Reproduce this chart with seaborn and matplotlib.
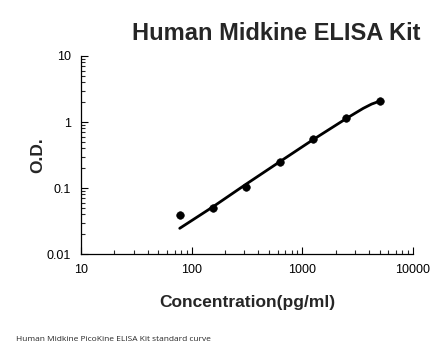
import numpy as np
import pandas as pd
import matplotlib
matplotlib.use('Agg')
import matplotlib.pyplot as plt
from matplotlib.ticker import LogLocator, FixedLocator, FixedFormatter, NullFormatter
import seaborn as sns

# standard points
conc = [78, 156, 312, 625, 1250, 2500, 5000]
od = [0.039, 0.050, 0.104, 0.248, 0.547, 1.14, 2.07]

# fitted curve
curve_conc = [78, 156, 312, 625, 1250, 2500, 3000, 3550, 4230, 5000]
curve_od = [0.0245, 0.052, 0.115, 0.25, 0.54, 1.13, 1.36, 1.61, 1.87, 2.07]

xticks = [10, 100, 1000, 10000]
xticklabels = ['10', '100', '1000', '10000']
yticks = [0.01, 0.1, 1, 10]
yticklabels = ['0.01', '0.1', '1', '10']

sns.set_style('white')
plt.rcParams['font.family'] = ['Liberation Sans', 'DejaVu Sans']

pts = pd.DataFrame({'conc': conc, 'od': od})
fit = pd.DataFrame({'conc': curve_conc, 'od': curve_od})

fig = plt.figure(figsize=(4.46, 3.56), dpi=100)
ax = fig.add_axes([0.1816, 0.2865, 0.7444, 0.5562])

sns.lineplot(data=fit, x='conc', y='od', color='black', linewidth=2, ax=ax)
sns.scatterplot(data=pts, x='conc', y='od', color='black', s=30, edgecolor='black', ax=ax, zorder=3)

ax.set_xscale('log')
ax.set_yscale('log')
ax.set_xlim(10, 10000)
ax.set_ylim(0.01, 10)

ax.xaxis.set_major_locator(FixedLocator(xticks))
ax.xaxis.set_major_formatter(FixedFormatter(xticklabels))
ax.yaxis.set_major_locator(FixedLocator(yticks))
ax.yaxis.set_major_formatter(FixedFormatter(yticklabels))
ax.xaxis.set_minor_locator(LogLocator(base=10, subs=np.arange(2, 10)))
ax.yaxis.set_minor_locator(LogLocator(base=10, subs=np.arange(2, 10)))
ax.xaxis.set_minor_formatter(NullFormatter())
ax.yaxis.set_minor_formatter(NullFormatter())

ax.tick_params(which='major', direction='in', length=5, width=0.8, labelsize=9, pad=7, colors='black')
ax.tick_params(which='minor', direction='in', length=3, width=0.8)
ax.tick_params(axis='x', which='both', bottom=True)
ax.tick_params(axis='y', which='both', left=True)

for side in ['top', 'right']:
    ax.spines[side].set_visible(False)
for side in ['left', 'bottom']:
    ax.spines[side].set_color('black')
    ax.spines[side].set_linewidth(0.9)

ax.set_xlabel('Concentration(pg/ml)', fontsize=12.5, fontweight='bold', labelpad=14)
ax.set_ylabel('O.D.', fontsize=12.5, fontweight='bold', labelpad=1)

fig.text(0.9425, 0.907, 'Human Midkine ELISA Kit', fontsize=17, fontweight='bold', ha='right', va='center')
fig.text(0.036, 0.045, 'Human Midkine PicoKine ELISA Kit standard curve', fontsize=6,
         family=['Open Sans', 'DejaVu Sans'], ha='left', va='center')

fig.savefig('out.png', dpi=100)
